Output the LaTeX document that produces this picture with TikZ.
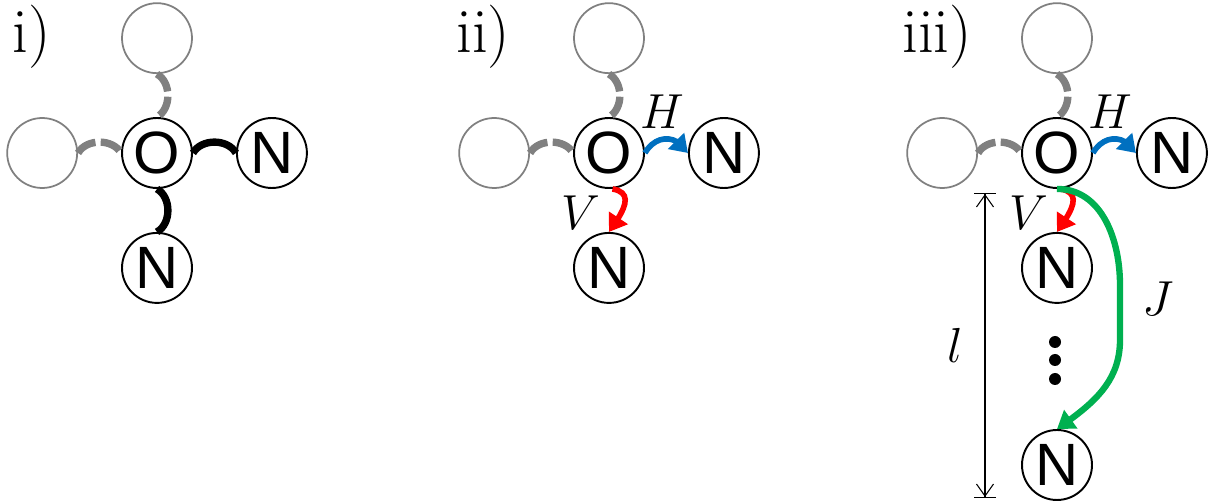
\RequirePackage{fix-cm}
\documentclass[tikz,border=0pt]{standalone}
\usepackage{fontspec}
\newfontfamily\atomfont{Liberation Sans}
\usetikzlibrary{%
    arrows.meta,
    bending,
    positioning
}
\definecolor{bondgray}{RGB}{128,128,128}
\definecolor{hblue}{RGB}{0,112,192}
\definecolor{vred}{RGB}{255,0,0}
\definecolor{jgreen}{RGB}{0,176,80}
\tikzset{atom/.style = {circle, draw, line width=1.1pt, minimum size=1.4cm, inner sep=0pt, font=\atomfont\fontsize{34}{34}\selectfont}}
\tikzset{ghost/.style = {circle, draw=bondgray, line width=1pt, minimum size=1.4cm, inner sep=0pt}}
\tikzset{bond/.style = {line width=4.2pt, bend left=60}}
\tikzset{ghostbond/.style = {bondgray, line width=4.2pt, dash pattern=on 12pt off 3pt, bend left=60}}
\tikzset{coupling/.style = {line width=3.2pt, -{Triangle[length=0.34cm,width=0.44cm,flex]}}}
\tikzset{dimline/.style = {line width=0.6pt, {Bar[width=0.44cm]Straight Barb[length=0.24cm,width=0.34cm,sep=0pt]}-{Straight Barb[length=0.24cm,width=0.34cm,sep=0pt]Bar[width=0.44cm]}}}
\tikzset{panel/.style = {font=\fontsize{36}{40}\selectfont, inner sep=0pt, anchor=north west}}
\tikzset{mathlab/.style = {text=black, font=\fontsize{28}{30}\selectfont, inner sep=0pt}}
\tikzset{dot/.style = {circle, fill, inner sep=0pt, minimum size=0.24cm}}

\begin{document}
\begin{tikzpicture}[x=0.02cm, y=0.02cm, node distance=0.86cm]
    \useasboundingbox (0,0) rectangle (1208,504);

    % the three panels
    \foreach \Panel/\X/\Lx in {i/157/12,ii/609/456,iii/1057/902}
        {
        \node[panel] (lab\Panel) at (\Lx,499) {\Panel)};
        \node[atom]  (O\Panel) at (\X,351) {O};
        \node[ghost] (T\Panel) [above=of O\Panel] {};
        \node[ghost] (L\Panel) [left=of O\Panel] {};
        \node[atom]  (R\Panel) [right=of O\Panel] {N};
        \node[atom]  (B\Panel) [below=of O\Panel] {N};
        \draw[ghostbond] (T\Panel.south) to (O\Panel.north);
        \draw[ghostbond] (L\Panel.east) to (O\Panel.west);
        }

    % plain bonds
    \draw[bond] (Oi.east) to (Ri.west);
    \draw[bond] (Oi.south) to (Bi.north);

    % couplings
    \foreach \Panel/\X in {ii/609,iii/1057}
        {
        \draw[coupling, hblue] (O\Panel.east) to[out=60, in=120, looseness=1.3] (R\Panel.west);
        \draw[coupling, vred] ([xshift=2pt]O\Panel.south) to[out=-10, in=55, looseness=1.4] (B\Panel.north);
        \node[mathlab] (H\Panel) at (\X+53,392) {$H$};
        \node[mathlab] (V\Panel) at (\X-28,291) {$V$};
        }

    % chain of length l
    \foreach \k/\Y in {1/162,2/144,3/125}
        \node[dot] (dot\k) at (1055,\Y) {};
    \node[atom] (Nend) at (1057,39) {N};
    \coordinate (Jtop) at (1120,219);
    \coordinate (Jbot) at (1120,164);
    \draw[coupling, jgreen, line width=3.6pt] (Oiii.south) to[out=0,in=90] (Jtop)
        -- node[mathlab, right=11pt, pos=0.25] (Jlab) {$J$} (Jbot)
        to[out=-90,in=35] (Nend.north);

    \coordinate (dimtop) at (985,311);
    \coordinate (dimbot) at (985,6);
    \draw[dimline] (dimtop) -- node[mathlab, left=12pt] (llab) {$l$} (dimbot);
\end{tikzpicture}
\end{document}
